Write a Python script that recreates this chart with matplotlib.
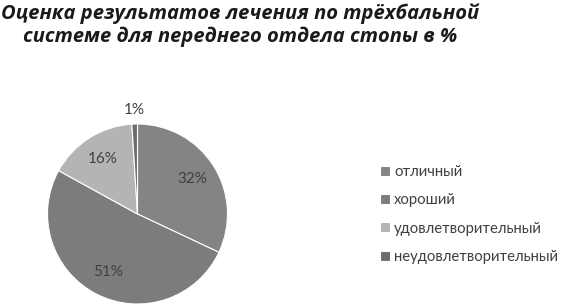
import matplotlib
matplotlib.use("Agg")
import numpy as np
from matplotlib import pyplot as plt

# данные диаграммы
title = "Оценка результатов лечения по трёхбальной\nсистеме для переднего отдела стопы в %"
categories = ["отличный", "хороший", "удовлетворительный", "неудовлетворительный"]
values = [32, 51, 16, 1]
colors = ["#848484", "#7c7c7c", "#b4b4b4", "#6c6c6c"]

plt.rcParams['font.family'] = ['Lato', 'DejaVu Sans']

fig = plt.figure(figsize=(5.62, 3.06), dpi=100)
fig.patch.set_facecolor("white")

# круг: центр (137, 214) px, радиус 90 px
ax = fig.add_axes([47.5 / 562, 2 / 306, 180 / 562, 180 / 306])
wedges, texts, autotexts = ax.pie(values, colors=colors, startangle=90, counterclock=False,
                                  autopct='%d%%', pctdistance=0.72,
                                  wedgeprops=dict(edgecolor='white', linewidth=0.8),
                                  textprops=dict(fontsize=11, color='#404040'))
ax.set_xlim(-1, 1)
ax.set_ylim(-1, 1)
ax.set_aspect('equal')

# маленький сектор - подпись снаружи
for w, t, v in zip(wedges, autotexts, values):
    if v < 5:
        ang = np.deg2rad((w.theta1 + w.theta2) / 2)
        t.set_position((1.16 * np.cos(ang), 1.16 * np.sin(ang)))

fig.text(0.427, 0.99, title, ha='center', va='top', fontsize=14.5, fontweight='bold',
         fontstyle='italic', color='#1a1a1a', linespacing=1.2,
         family=['Open Sans', 'DejaVu Sans'])

leg = fig.legend(wedges, categories, loc='upper left', bbox_to_anchor=(380 / 562, 1 - 165 / 306),
                 frameon=False, fontsize=10.7, handlelength=0.65, handleheight=0.65,
                 handletextpad=0.3, labelspacing=0.96, borderpad=0, borderaxespad=0)
for t in leg.get_texts():
    t.set_color('#404040')

plt.savefig("out.png", dpi=100)
